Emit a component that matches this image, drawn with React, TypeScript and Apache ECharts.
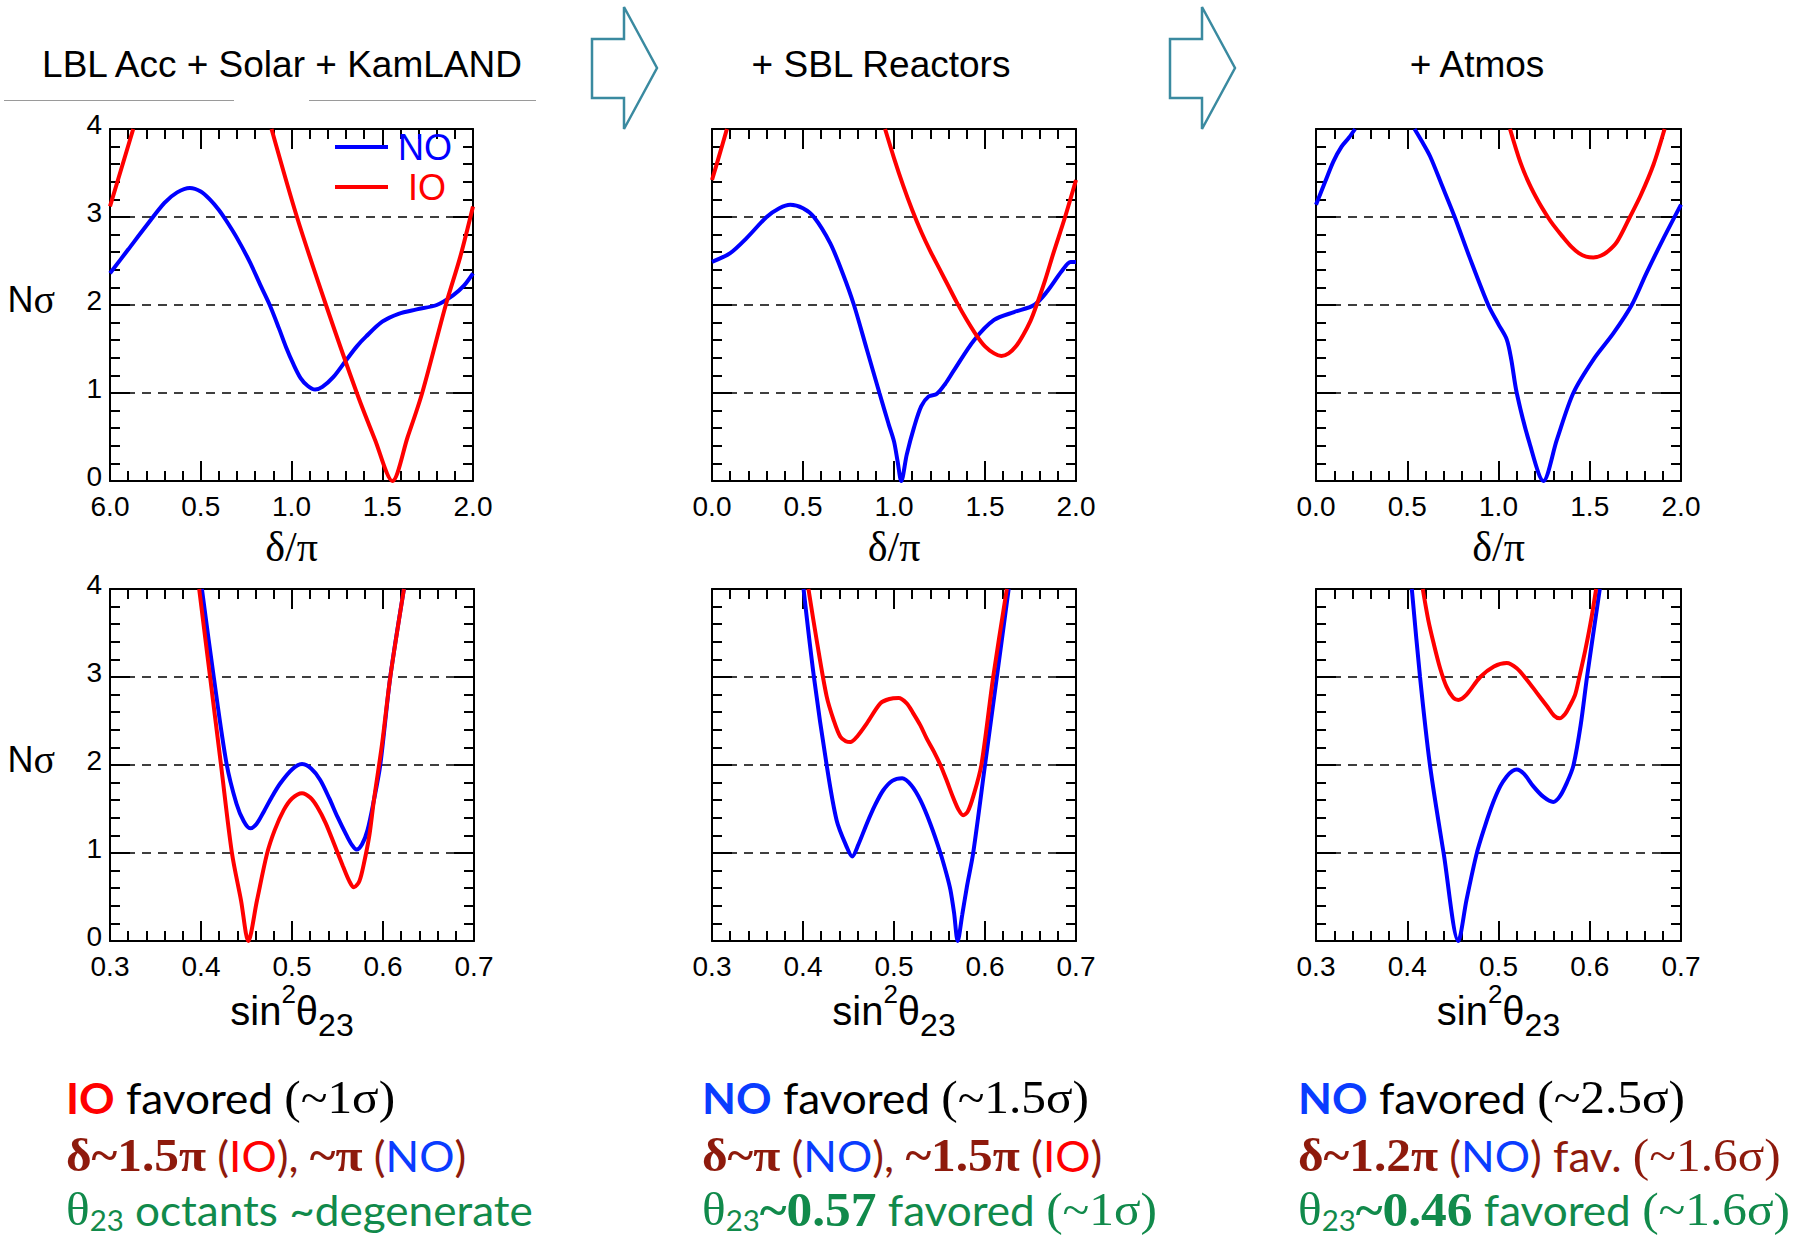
import React, { useEffect, useRef } from "react";
import * as echarts from "echarts";

// ---------------- tick labels & texts ----------------
const Y_LABELS = ["0", "1", "2", "3", "4"];
const DELTA_LABELS_P1 = ["6.0", "0.5", "1.0", "1.5", "2.0"];
const DELTA_LABELS = ["0.0", "0.5", "1.0", "1.5", "2.0"];
const S23_LABELS = ["0.3", "0.4", "0.5", "0.6", "0.7"];
const TITLES = ["LBL Acc + Solar + KamLAND", "+ SBL Reactors", "+ Atmos"];
const SERIES_NAMES = ["NO", "IO"];

// ---------------- data: N sigma vs delta/pi ----------------
const NO_DELTA_1 = [
  [0, 2.36], [0.1, 2.63], [0.2, 2.9], [0.3, 3.16], [0.37, 3.28], [0.44, 3.33], [0.5, 3.29],
  [0.55, 3.2], [0.6, 3.08], [0.64, 2.96], [0.7, 2.76], [0.77, 2.49], [0.83, 2.22], [0.88, 2.0],
  [0.93, 1.74], [0.97, 1.52], [1.01, 1.33], [1.05, 1.17], [1.09, 1.08], [1.13, 1.04], [1.17, 1.07],
  [1.23, 1.18], [1.3, 1.37], [1.36, 1.53], [1.41, 1.64], [1.5, 1.81], [1.59, 1.9], [1.69, 1.95],
  [1.8, 2.0], [1.89, 2.11], [1.95, 2.22], [2.0, 2.36],
];
const IO_DELTA_1 = [
  [0, 3.12], [0.064, 3.56], [0.128, 4.0], [0.5, null],
  [0.89, 4.0], [1.03, 3.0], [1.19, 2.0], [1.36, 1.0], [1.46, 0.47], [1.556, 0.0],
  [1.64, 0.5], [1.72, 1.0], [1.85, 2.0], [1.93, 2.55], [2.0, 3.12],
];
const NO_DELTA_2 = [
  [0, 2.49], [0.1, 2.59], [0.19, 2.76], [0.3, 3.0], [0.37, 3.1], [0.43, 3.14], [0.5, 3.1],
  [0.56, 3.0], [0.65, 2.7], [0.72, 2.35], [0.78, 2.0], [0.85, 1.5], [0.92, 1.0], [0.97, 0.65],
  [1.0, 0.45], [1.02, 0.22], [1.04, 0.0], [1.07, 0.3], [1.11, 0.61], [1.15, 0.85], [1.19, 0.96],
  [1.235, 0.99], [1.28, 1.1], [1.33, 1.26], [1.44, 1.6], [1.55, 1.83], [1.66, 1.92], [1.77, 2.0],
  [1.84, 2.15], [1.92, 2.38], [1.97, 2.49], [2.0, 2.49],
];
const IO_DELTA_2 = [
  [0, 3.42], [0.04, 3.7], [0.082, 4.0], [0.5, null],
  [0.951, 4.0], [1.0, 3.67], [1.05, 3.36], [1.1, 3.08], [1.15, 2.83], [1.2, 2.61], [1.25, 2.41],
  [1.3, 2.21], [1.345, 2.03], [1.4, 1.83], [1.455, 1.65], [1.5, 1.53], [1.55, 1.45], [1.59, 1.42],
  [1.63, 1.45], [1.67, 1.53], [1.71, 1.66], [1.75, 1.82], [1.78, 1.98], [1.83, 2.28],
  [1.876, 2.59], [1.94, 3.0], [2.0, 3.42],
];
const NO_DELTA_3 = [
  [0, 3.14], [0.05, 3.4], [0.095, 3.63], [0.14, 3.8], [0.18, 3.9], [0.214, 4.0], [0.3, null],
  [0.54, 4.0], [0.58, 3.86], [0.625, 3.69], [0.69, 3.36], [0.76, 3.0], [0.84, 2.55], [0.944, 2.0],
  [1.0, 1.78], [1.045, 1.61], [1.07, 1.38], [1.1, 1.0], [1.17, 0.43], [1.246, 0.0], [1.32, 0.47],
  [1.41, 1.0], [1.52, 1.38], [1.63, 1.68], [1.73, 2.0], [1.81, 2.36], [1.9, 2.74], [2.0, 3.14],
];
const IO_DELTA_3 = [
  [1.063, 4.0], [1.12, 3.62], [1.17, 3.37], [1.22, 3.17], [1.27, 3.0], [1.3, 2.91], [1.35, 2.78],
  [1.4, 2.66], [1.44, 2.59], [1.48, 2.55], [1.52, 2.54], [1.56, 2.56], [1.6, 2.61], [1.65, 2.72],
  [1.72, 3.0], [1.78, 3.25], [1.85, 3.6], [1.91, 4.0],
];

// ---------------- data: N sigma vs sin^2 theta23 ----------------
const NO_S23_1 = [
  [0.401, 4.0], [0.414, 3.0], [0.428, 2.02], [0.439, 1.56], [0.447, 1.36], [0.454, 1.28],
  [0.461, 1.33], [0.469, 1.47], [0.478, 1.64], [0.487, 1.79], [0.5, 1.95], [0.511, 2.01],
  [0.521, 1.96], [0.531, 1.83], [0.541, 1.62], [0.55, 1.41], [0.56, 1.2], [0.566, 1.09],
  [0.571, 1.04], [0.577, 1.1], [0.583, 1.26], [0.59, 1.6], [0.597, 2.0], [0.608, 3.0], [0.623, 4.0],
];
const IO_S23_1 = [
  [0.398, 4.0], [0.41, 3.0], [0.422, 2.0], [0.434, 1.0], [0.444, 0.46], [0.452, 0.0],
  [0.4615, 0.46], [0.4725, 0.99], [0.481, 1.26], [0.491, 1.49], [0.5, 1.62], [0.511, 1.68],
  [0.52, 1.63], [0.528, 1.52], [0.537, 1.34], [0.546, 1.11], [0.556, 0.85], [0.563, 0.68],
  [0.568, 0.61], [0.574, 0.68], [0.579, 0.88], [0.585, 1.2], [0.59, 1.6], [0.599, 2.24],
  [0.608, 3.0], [0.623, 4.0],
];
const NO_S23_2 = [
  [0.4006, 4.0], [0.412, 3.0], [0.426, 2.0], [0.437, 1.37], [0.448, 1.07], [0.454, 0.96],
  [0.461, 1.1], [0.47, 1.33], [0.479, 1.54], [0.488, 1.71], [0.498, 1.82], [0.509, 1.85],
  [0.519, 1.77], [0.529, 1.6], [0.54, 1.33], [0.551, 1.0], [0.558, 0.75], [0.562, 0.58],
  [0.566, 0.32], [0.57, 0.0], [0.575, 0.3], [0.58, 0.61], [0.587, 1.0], [0.6, 2.0], [0.613, 3.0],
  [0.626, 4.0],
];
const IO_S23_2 = [
  [0.406, 4.0], [0.415, 3.42], [0.426, 2.78], [0.434, 2.5], [0.441, 2.32], [0.447, 2.27],
  [0.452, 2.26], [0.46, 2.33], [0.47, 2.47], [0.485, 2.7], [0.495, 2.75], [0.505, 2.76],
  [0.514, 2.7], [0.521, 2.59], [0.529, 2.45], [0.536, 2.3], [0.544, 2.15], [0.551, 2.0],
  [0.558, 1.82], [0.565, 1.63], [0.571, 1.49], [0.576, 1.43], [0.581, 1.47], [0.587, 1.64],
  [0.596, 2.0], [0.609, 3.0], [0.624, 4.0],
];
const NO_S23_3 = [
  [0.405, 4.0], [0.414, 3.0], [0.425, 1.99], [0.44, 0.99], [0.456, 0.0], [0.465, 0.47],
  [0.476, 0.99], [0.485, 1.3], [0.494, 1.57], [0.502, 1.76], [0.509, 1.87], [0.515, 1.93],
  [0.52, 1.95], [0.528, 1.9], [0.538, 1.76], [0.549, 1.64], [0.56, 1.58], [0.567, 1.64],
  [0.575, 1.8], [0.582, 1.99], [0.59, 2.45], [0.597, 3.0], [0.611, 4.0],
];
const IO_S23_3 = [
  [0.417, 4.0], [0.423, 3.65], [0.429, 3.38], [0.436, 3.1], [0.443, 2.89], [0.45, 2.77],
  [0.456, 2.74], [0.465, 2.8], [0.48, 3.0], [0.495, 3.12], [0.509, 3.16], [0.52, 3.1],
  [0.531, 2.97], [0.542, 2.82], [0.553, 2.67], [0.561, 2.56], [0.567, 2.53], [0.573, 2.58],
  [0.578, 2.67], [0.584, 2.8], [0.589, 3.02], [0.595, 3.3], [0.601, 3.62], [0.607, 4.0],
];

// ---------------- summary texts (rich) ----------------
const SUMMARY_COL1 = [
  "{rB|IO}{k| favored }{kS|(~1σ)}",
  "{drB|δ~1.5π}{dr| (}{r|IO}{dr|), }{drB|~π}{dr| (}{b|NO}{dr|)}",
  "{gS|θ}{gSub|23}{g| octants ~degenerate}",
];
const SUMMARY_COL2 = [
  "{bB|NO}{k| favored }{kS|(~1.5σ)}",
  "{drB|δ~π}{dr| (}{b|NO}{dr|), }{drB|~1.5π}{dr| (}{r|IO}{dr|)}",
  "{gS|θ}{gSub|23}{gSB|~0.57}{g| favored }{gS|(~1σ)}",
];
const SUMMARY_COL3 = [
  "{bB|NO}{k| favored }{kS|(~2.5σ)}",
  "{drB|δ~1.2π}{dr| (}{b|NO}{dr|) fav. }{drS|(~1.6σ)}",
  "{gS|θ}{gSub|23}{gSB|~0.46}{g| favored }{gS|(~1.6σ)}",
];

// ---------------- styles ----------------
const F_SANS = '"Liberation Sans", Arial, sans-serif';
const F_BODY = 'Lato, "Open Sans", sans-serif';
const F_SERIF = '"Liberation Serif", "Times New Roman", serif';
const C_NO = "#0000ff";
const C_IO = "#ff0000";
const T_RED = "#ff0000";
const T_BLUE = "#0a3cff";
const T_DARKRED = "#8e1a0c";
const T_GREEN = "#118a4b";
const ARROW = "#3a8aa0";

const BODY = 42;
const SER = 47;
const LH = 50;
const RICH: any = {
  rB: { fontFamily: F_BODY, fontSize: BODY, fontWeight: "bold", fill: T_RED, lineHeight: LH },
  bB: { fontFamily: F_BODY, fontSize: BODY, fontWeight: "bold", fill: T_BLUE, lineHeight: LH },
  k: { fontFamily: F_BODY, fontSize: BODY, fill: "#000", lineHeight: LH },
  kS: { fontFamily: F_SERIF, fontSize: SER, fill: "#000", lineHeight: LH },
  drB: { fontFamily: F_SERIF, fontSize: SER, fontWeight: "bold", fill: T_DARKRED, lineHeight: LH },
  dr: { fontFamily: F_BODY, fontSize: BODY, fill: T_DARKRED, lineHeight: LH },
  drS: { fontFamily: F_SERIF, fontSize: SER, fill: T_DARKRED, lineHeight: LH },
  r: { fontFamily: F_BODY, fontSize: BODY, fill: T_RED, lineHeight: LH },
  b: { fontFamily: F_BODY, fontSize: BODY, fill: T_BLUE, lineHeight: LH },
  g: { fontFamily: F_BODY, fontSize: BODY, fill: T_GREEN, lineHeight: LH },
  gS: { fontFamily: F_SERIF, fontSize: SER, fill: T_GREEN, lineHeight: LH },
  gSB: { fontFamily: F_SERIF, fontSize: SER + 2, fontWeight: "bold", fill: T_GREEN, lineHeight: LH },
  gSub: { fontFamily: F_BODY, fontSize: 28, fill: T_GREEN, lineHeight: 31, verticalAlign: "bottom" },
};

const PANELS = [
  { left: 110, top: 129, width: 363, height: 352, kind: "delta", labels: DELTA_LABELS_P1, yLabels: true, no: NO_DELTA_1, io: IO_DELTA_1 },
  { left: 712, top: 129, width: 364, height: 352, kind: "delta", labels: DELTA_LABELS, yLabels: false, no: NO_DELTA_2, io: IO_DELTA_2 },
  { left: 1316, top: 129, width: 365, height: 352, kind: "delta", labels: DELTA_LABELS, yLabels: false, no: NO_DELTA_3, io: IO_DELTA_3 },
  { left: 110, top: 589, width: 364, height: 352, kind: "s23", labels: S23_LABELS, yLabels: true, no: NO_S23_1, io: IO_S23_1 },
  { left: 712, top: 589, width: 364, height: 352, kind: "s23", labels: S23_LABELS, yLabels: false, no: NO_S23_2, io: IO_S23_2 },
  { left: 1316, top: 589, width: 365, height: 352, kind: "s23", labels: S23_LABELS, yLabels: false, no: NO_S23_3, io: IO_S23_3 },
];

function buildOption() {
  const frame = { show: true, onZero: false, lineStyle: { color: "#000", width: 2 } };
  const tick = { show: true, inside: true, length: 20, lineStyle: { color: "#000", width: 2 } };
  const minor = { show: true, splitNumber: 5, length: 10, lineStyle: { color: "#000", width: 2 } };
  const grid: any[] = [];
  const xAxis: any[] = [];
  const yAxis: any[] = [];
  const series: any[] = [];

  PANELS.forEach((p, i) => {
    grid.push({ left: p.left, top: p.top, width: p.width, height: p.height });
    const isDelta = p.kind === "delta";
    const range = isDelta ? { min: 0, max: 2, interval: 0.5 } : { min: 0.3, max: 0.7, interval: 0.1 };
    const baseX = {
      type: "value", gridIndex: i, ...range,
      axisLine: frame, axisTick: tick, minorTick: minor, splitLine: { show: false },
    };
    xAxis.push({
      ...baseX,
      position: "bottom",
      axisLabel: {
        show: true, margin: 11, color: "#000", fontFamily: F_SANS, fontSize: 28,
        formatter: (_v: number, idx: number) => p.labels[idx],
      },
      name: isDelta ? "δ/π" : "{m|sin}{sup|2}{m|θ}{sub|23}",
      nameLocation: "middle",
      nameGap: isDelta ? 45 : 33,
      nameTextStyle: isDelta
        ? { fontFamily: F_SERIF, fontSize: 42, color: "#000" }
        : {
            rich: {
              m: { fontFamily: F_SANS, fontSize: 40, lineHeight: 60, color: "#000" },
              sup: { fontFamily: F_SANS, fontSize: 26, lineHeight: 34, verticalAlign: "top", color: "#000" },
              sub: { fontFamily: F_SANS, fontSize: 32, lineHeight: 26, verticalAlign: "bottom", color: "#000" },
            },
          },
    });
    xAxis.push({ ...baseX, position: "top", axisLabel: { show: false } });

    const baseY = {
      type: "value", gridIndex: i, min: 0, max: 4, interval: 1,
      axisLine: frame, axisTick: tick, minorTick: minor,
    };
    yAxis.push({
      ...baseY,
      position: "left",
      splitLine: { show: true, lineStyle: { color: "#000", width: 1.5, type: [9, 7] } },
      axisLabel: {
        show: p.yLabels, margin: 8, color: "#000", fontFamily: F_SANS, fontSize: 28,
        verticalAlign: "bottom", lineHeight: 10,
        formatter: (_v: number, idx: number) => Y_LABELS[idx],
      },
      name: p.yLabels ? "{n|N}{s|σ}" : "",
      nameLocation: "middle",
      nameRotate: 0,
      nameGap: 55,
      nameTextStyle: {
        padding: [0, 0, 12, 0],
        rich: {
          n: { fontFamily: F_SANS, fontSize: 36, color: "#000" },
          s: { fontFamily: F_SERIF, fontSize: 40, color: "#000" },
        },
      },
    });
    yAxis.push({ ...baseY, position: "right", splitLine: { show: false }, axisLabel: { show: false } });

    const mk = (name: string, color: string, data: any[]) => ({
      type: "line", name, xAxisIndex: 2 * i, yAxisIndex: 2 * i, data,
      showSymbol: false, symbol: "none", smooth: 0.3, clip: true, connectNulls: false,
      itemStyle: { color }, lineStyle: { color, width: 4 }, z: 3,
    });
    series.push(mk(SERIES_NAMES[0], C_NO, p.no));
    series.push(mk(SERIES_NAMES[1], C_IO, p.io));
  });

  const graphic: any[] = [];
  const titleX = [282, 881, 1477];
  TITLES.forEach((t, i) =>
    graphic.push({
      type: "text", x: titleX[i], y: 64,
      style: { text: t, fontFamily: F_SANS, fontSize: 37, fill: "#000", align: "center", verticalAlign: "middle" },
    })
  );
  graphic.push({ type: "line", shape: { x1: 4, y1: 100.5, x2: 234, y2: 100.5 }, style: { stroke: "#9a9a9a", lineWidth: 1 } });
  graphic.push({ type: "line", shape: { x1: 309, y1: 100.5, x2: 536, y2: 100.5 }, style: { stroke: "#9a9a9a", lineWidth: 1 } });

  [0, 578].forEach((dx) =>
    graphic.push({
      type: "polygon",
      shape: {
        points: [
          [592 + dx, 39], [624 + dx, 39], [624 + dx, 7], [657 + dx, 68],
          [624 + dx, 129], [624 + dx, 98], [592 + dx, 98],
        ],
      },
      style: { fill: "none", stroke: ARROW, lineWidth: 2.5 },
    })
  );

  const colX = [66, 702, 1298];
  const lineY = [1097, 1155, 1209];
  [SUMMARY_COL1, SUMMARY_COL2, SUMMARY_COL3].forEach((col, c) =>
    col.forEach((ln, l) =>
      graphic.push({
        type: "text", x: colX[c], y: lineY[l], scaleX: 1.05,
        style: { text: ln, rich: RICH, align: "left", verticalAlign: "middle" },
      })
    )
  );

  return {
    animation: false,
    backgroundColor: "#ffffff",
    grid,
    xAxis,
    yAxis,
    series,
    legend: {
      orient: "vertical",
      left: 330,
      top: 124,
      icon: "rect",
      itemWidth: 53,
      itemHeight: 4,
      itemGap: 4,
      selectedMode: false,
      textStyle: { fontFamily: F_SANS, fontSize: 36 },
      data: [
        { name: "NO", textStyle: { color: C_NO, padding: [0, 0, 0, 5] } },
        { name: "IO", textStyle: { color: C_IO, padding: [0, 0, 0, 15] } },
      ],
    },
    graphic,
  };
}

export default function App() {
  const ref = useRef<HTMLDivElement>(null);
  useEffect(() => {
    document.body.style.margin = "0";
    const chart = echarts.init(ref.current as HTMLDivElement, null, { renderer: "svg" });
    chart.setOption(buildOption() as any);
    return () => chart.dispose();
  }, []);
  return <div ref={ref} style={{ width: 1798, height: 1238 }} />;
}
